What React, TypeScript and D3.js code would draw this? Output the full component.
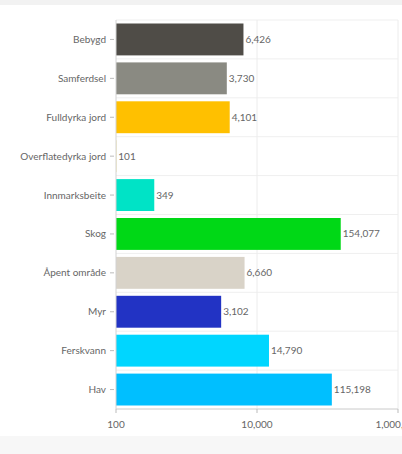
import React from "react";
import * as d3 from "d3";

const categories = [
  "Bebygd",
  "Samferdsel",
  "Fulldyrka jord",
  "Overflatedyrka jord",
  "Innmarksbeite",
  "Skog",
  "Åpent område",
  "Myr",
  "Ferskvann",
  "Hav",
];
const values = [6426, 3730, 4101, 101, 349, 154077, 6660, 3102, 14790, 115198];
const colors = [
  "#4f4c47",
  "#8a8a82",
  "#ffc000",
  "#e8d24a",
  "#00e3c6",
  "#00d816",
  "#d9d3c8",
  "#2233c4",
  "#00d6ff",
  "#00bfff",
];
const xTicks = [100, 10000, 1000000];

const W = 402;
const H = 454;
const left = 116;
const right = 398;
const top = 20;
const bottom = 409;
const font = "Lato, 'Noto Sans', sans-serif";

export default function App() {
  const x = d3.scaleLog().domain([100, 1000000]).range([left, right]);
  const y = d3
    .scaleBand<string>()
    .domain(categories)
    .range([top, bottom])
    .paddingInner(0.18)
    .paddingOuter(0.09);
  const step = y.step();
  const fmt = d3.format(",");
  const boundaries = d3.range(categories.length + 1).map((i) => top + i * step);

  return (
    <div style={{ position: "absolute", left: 0, top: 0 }}>
      <svg width={W} height={H} style={{ display: "block", fontFamily: font }}>
        <rect x={0} y={0} width={W} height={H} fill="#fff" />
        <rect x={0} y={0} width={W} height={5} fill="#f2f2f2" />
        <rect x={0} y={436} width={W} height={18} fill="#f7f7f7" />
        {/* horizontal gridlines */}
        {boundaries.map((b, i) => (
          <line key={"h" + i} x1={left} x2={right} y1={b} y2={b} stroke="#efefef" strokeWidth={1} />
        ))}
        {/* vertical gridlines */}
        {xTicks.slice(1).map((t) => (
          <line key={"v" + t} x1={x(t)} x2={x(t)} y1={top} y2={bottom} stroke="#ececec" strokeWidth={1} />
        ))}
        {/* bars */}
        {categories.map((c, i) => (
          <rect
            key={c}
            x={left}
            y={y(c)!}
            width={Math.max(0, x(values[i]) - left)}
            height={y.bandwidth()}
            fill={colors[i]}
          />
        ))}
        {/* value labels */}
        {categories.map((c, i) => (
          <text
            key={"l" + c}
            x={x(values[i]) + 2}
            y={y(c)! + y.bandwidth() / 2}
            dy="0.35em"
            fontSize={10}
            fill="#666"
          >
            {fmt(values[i])}
          </text>
        ))}
        {/* left axis */}
        <line x1={left} x2={left} y1={top} y2={bottom} stroke="#d2d2d2" />
        {categories.map((c) => (
          <g key={"t" + c} transform={`translate(0,${y(c)! + y.bandwidth() / 2})`}>
            <line x1={left - 6} x2={left - 2} stroke="#bbb" />
            <text x={left - 10} dy="0.35em" textAnchor="end" fontSize={10} fill="#666">
              {c}
            </text>
          </g>
        ))}
        {/* bottom axis */}
        <line x1={left} x2={right} y1={bottom} y2={bottom} stroke="#d2d2d2" />
        {xTicks.map((t) => (
          <g key={"x" + t} transform={`translate(${x(t)},${bottom})`}>
            <line y1={0} y2={4} stroke="#bbb" />
            <text y={19} textAnchor="middle" fontSize={10} fill="#666">
              {fmt(t)}
            </text>
          </g>
        ))}
      </svg>
    </div>
  );
}
